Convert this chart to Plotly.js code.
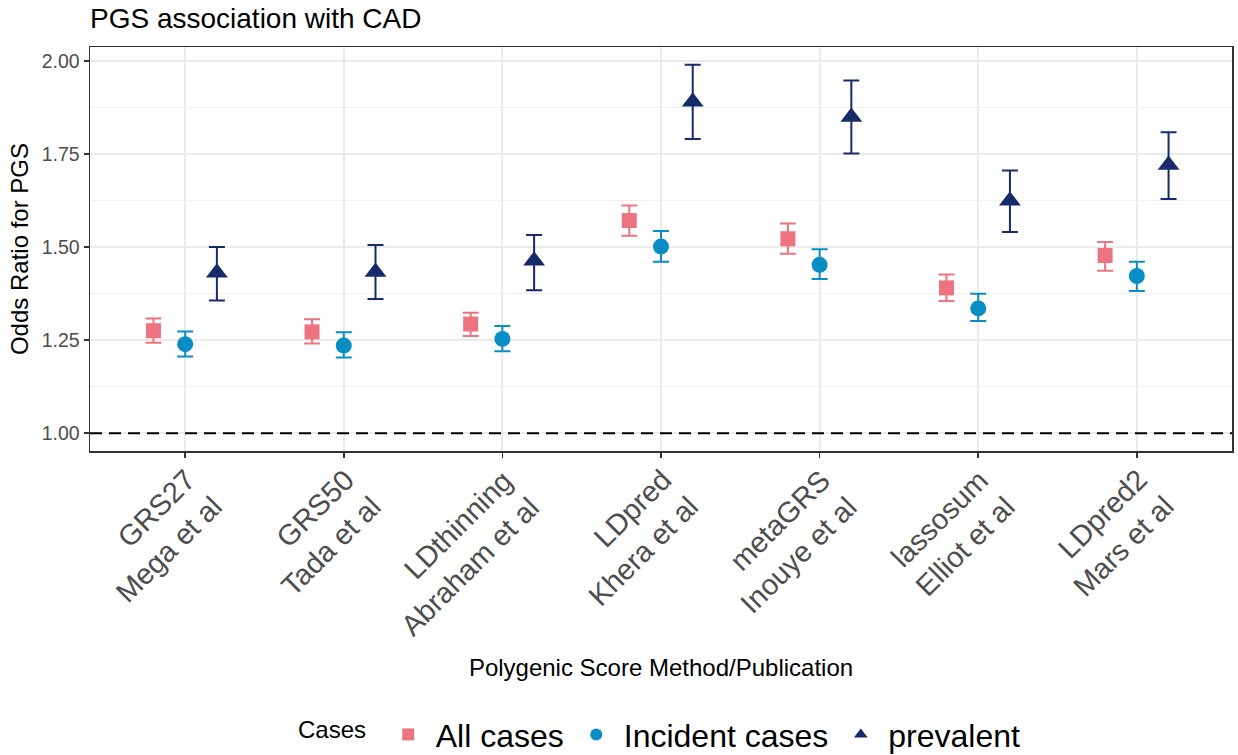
<!DOCTYPE html>
<html>
<head>
<meta charset="utf-8">
<script src="https://cdn.plot.ly/plotly-3.0.1.min.js"></script>
<style>html,body{margin:0;padding:0;background:#fff;} #chart{width:1238px;height:755px;}</style>
</head>
<body>
<div id="chart"></div>
<script>
// Categories (method / publication)
const categories = ["GRS27<br>Mega et al", "GRS50<br>Tada et al", "LDthinning<br>Abraham et al",
  "LDpred<br>Khera et al", "metaGRS<br>Inouye et al", "lassosum<br>Elliot et al", "LDpred2<br>Mars et al"];

// All cases
const allOR    = [1.275, 1.272, 1.293, 1.571, 1.522, 1.390, 1.477];
const allLow   = [1.243, 1.241, 1.261, 1.530, 1.482, 1.355, 1.436];
const allHigh  = [1.308, 1.306, 1.323, 1.611, 1.563, 1.426, 1.513];

// Incident cases
const incOR    = [1.239, 1.235, 1.253, 1.501, 1.452, 1.335, 1.422];
const incLow   = [1.206, 1.203, 1.220, 1.460, 1.414, 1.301, 1.382];
const incHigh  = [1.273, 1.271, 1.288, 1.543, 1.494, 1.374, 1.460];

// prevalent
const prevOR   = [1.431, 1.433, 1.463, 1.890, 1.849, 1.624, 1.720];
const prevLow  = [1.356, 1.360, 1.384, 1.790, 1.751, 1.540, 1.629];
const prevHigh = [1.500, 1.505, 1.532, 1.989, 1.947, 1.705, 1.808];

const seriesNames = ["All cases", "Incident cases", "prevalent"];

const yTickVals = [1, 1.25, 1.5, 1.75, 2.0];
const yTickText = ["1.00", "1.25", "1.50", "1.75", "2.00"];

const colors = ["#EC737F", "#0A8DC4", "#172B6B"];
const symbols = ["square", "circle", "triangle-up"];
const dodge = [-0.2, 0, 0.2];
const idx = categories.map((_, i) => i);

function mk(k, y, lo, hi, size) {
  return {
    type: "scatter", mode: "markers", name: seriesNames[k],
    x: idx.map(i => i + dodge[k]), y: y,
    marker: {symbol: symbols[k], color: colors[k], size: size},
    error_y: {type: "data", symmetric: false,
      array: y.map((v, i) => hi[i] - v), arrayminus: y.map((v, i) => v - lo[i]),
      color: colors[k], thickness: 2, width: 8},
    hoverinfo: "x+y"
  };
}

const data = [
  mk(0, allOR, allLow, allHigh, 15),
  mk(1, incOR, incLow, incHigh, 16),
  mk(2, prevOR, prevLow, prevHigh, 19)
];

const font = "Liberation Sans, Arial, Helvetica, sans-serif";

// rotated category labels as whole text blocks (like ggplot)
const labelAnnotations = categories.map((c, i) => ({
  text: c, x: i, xref: "x", y: 0, yref: "paper",
  xanchor: "right", yanchor: "top", align: "right",
  textangle: -45, showarrow: false,
  font: {size: 29, color: "#4D4D4D", family: font},
  xshift: 46, yshift: -10
}));

const layout = {
  width: 1238, height: 755,
  margin: {l: 90, r: 6, t: 47, b: 304},
  paper_bgcolor: "#fff", plot_bgcolor: "#fff",
  font: {family: font, color: "#000"},
  title: {text: "PGS association with CAD", x: 0, xref: "paper", xanchor: "left",
    y: 0.976, yref: "container", yanchor: "middle", font: {size: 28, color: "#000"}},
  showlegend: true,
  legend: {orientation: "h", x: 0.5, xanchor: "center", xref: "paper",
    y: 0.027, yref: "container", yanchor: "middle",
    font: {size: 32, color: "#000"},
    title: {text: "Cases ", side: "left", font: {size: 24, color: "#000"}},
    itemwidth: 45, itemsizing: "constant", tracegroupgap: 0},
  xaxis: {
    range: [-0.6, 6.6], tickmode: "array", tickvals: idx, ticktext: categories,
    showticklabels: false,
    ticks: "outside", ticklen: 5, tickcolor: "#333", tickwidth: 1.5,
    showgrid: true, gridcolor: "#EBEBEB", gridwidth: 2,
    showline: true, mirror: true, linecolor: "#333", linewidth: 1.5,
    zeroline: false, automargin: false,
    title: {text: "Polygenic Score Method/Publication", font: {size: 24, color: "#000"}, standoff: 202}
  },
  yaxis: {
    range: [0.952, 2.037], tickmode: "array", tickvals: yTickVals, ticktext: yTickText,
    tickfont: {size: 19.5, color: "#4D4D4D"},
    ticks: "outside", ticklen: 5, tickcolor: "#333", tickwidth: 1.5,
    showgrid: true, gridcolor: "#EBEBEB", gridwidth: 2,
    minor: {tickmode: "array", tickvals: [1.125, 1.375, 1.625, 1.875], showgrid: true, gridcolor: "#F0F0F0", gridwidth: 1.2, ticks: ""},
    showline: true, mirror: true, linecolor: "#333", linewidth: 1.5,
    zeroline: false, automargin: false,
    title: {text: "Odds Ratio for PGS", font: {size: 24, color: "#000"}, standoff: 6}
  },
  annotations: labelAnnotations,
  shapes: [{type: "line", xref: "paper", x0: 0, x1: 1, yref: "y", y0: 1, y1: 1,
    line: {color: "#000", width: 2, dash: "12px,7px"}, layer: "above"}]
};

Plotly.newPlot("chart", data, layout, {displayModeBar: false, staticPlot: true});
</script>
</body>
</html>
